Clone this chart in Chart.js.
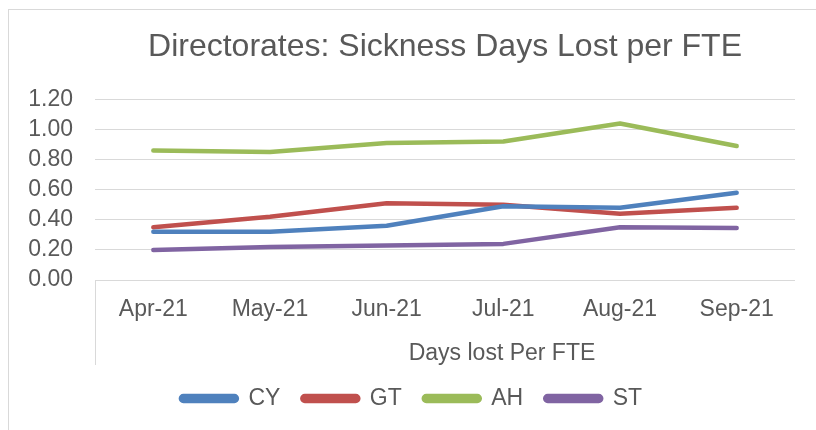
<!DOCTYPE html>
<html>
<head>
<meta charset="utf-8">
<script src="https://cdn.jsdelivr.net/npm/chart.js@4/dist/chart.umd.min.js"></script>
<style>
  html, body { margin: 0; padding: 0; background: #fff; overflow: hidden; }
  #wrap { position: relative; width: 816px; height: 430px; }
  #frame { position: absolute; left: 8px; top: 9px; right: -10px; bottom: -10px;
           border-left: 1px solid #d9d9d9; border-top: 1px solid #d9d9d9; }
  canvas { position: absolute; left: 0; top: 0; }
</style>
</head>
<body>
<div id="wrap">
  <div id="frame"></div>
  <canvas id="sicknessChart" width="816" height="430"></canvas>
</div>
<script>
const months = ['Apr-21', 'May-21', 'Jun-21', 'Jul-21', 'Aug-21', 'Sep-21'];
const cy = [0.32, 0.32, 0.36, 0.49, 0.48, 0.58];
const gt = [0.35, 0.42, 0.51, 0.50, 0.44, 0.48];
const ah = [0.86, 0.85, 0.91, 0.92, 1.04, 0.89];
const st = [0.20, 0.22, 0.23, 0.24, 0.35, 0.345];
const yTicks = [0.00, 0.20, 0.40, 0.60, 0.80, 1.00, 1.20];

const chartTitle = 'Directorates: Sickness Days Lost per FTE';
const xTitle = 'Days lost Per FTE';

const textColor = '#595959';
const gridColor = '#d9d9d9';
const fontFamily = '"Liberation Sans", Arial, sans-serif';

function line(label, data, color) {
    return {
        label: label,
        data: data,
        borderColor: color,
        backgroundColor: color,
        borderWidth: 4.5,
        borderCapStyle: 'round',
        borderJoinStyle: 'round',
        pointRadius: 0,
        pointHoverRadius: 0,
        tension: 0,
        fill: false
    };
}

// category box line + axis title, the way Excel draws them
const axisExtras = {
    id: 'axisExtras',
    afterDraw(chart) {
        const ctx = chart.ctx;
        const x = chart.scales.x;
        const area = chart.chartArea;
        ctx.save();
        ctx.strokeStyle = gridColor;
        ctx.lineWidth = 1;
        ctx.beginPath();
        ctx.moveTo(area.left + 0.5, area.bottom);
        ctx.lineTo(area.left + 0.5, x.bottom);
        ctx.stroke();
        ctx.fillStyle = textColor;
        ctx.font = '23px ' + fontFamily;
        ctx.textAlign = 'center';
        ctx.textBaseline = 'middle';
        ctx.fillText(xTitle, (x.left + x.right) / 2 + 57, x.bottom - 11);
        ctx.restore();
    }
};

document.addEventListener('DOMContentLoaded', function () {
    const canvas = document.getElementById('sicknessChart');
    if (typeof Chart === 'undefined' || !canvas) {
        return;
    }
    new Chart(canvas.getContext('2d'), {
        type: 'line',
        data: {
            labels: months,
            datasets: [
                line('CY', cy, '#4f81bd'),
                line('GT', gt, '#c0504d'),
                line('AH', ah, '#9bbb59'),
                line('ST', st, '#8064a2')
            ]
        },
        options: {
            responsive: false,
            animation: false,
            layout: { padding: { left: 28, right: 21, top: 10, bottom: 10 } },
            plugins: {
                title: {
                    display: true,
                    text: chartTitle,
                    fullSize: false,
                    color: textColor,
                    font: { family: fontFamily, size: 32, weight: 'normal' },
                    padding: { top: 18, bottom: 33 }
                },
                legend: {
                    position: 'bottom',
                    labels: {
                        color: textColor,
                        font: { family: fontFamily, size: 23 },
                        boxWidth: 56,
                        boxHeight: 5,
                        useBorderRadius: true,
                        borderRadius: 2.5,
                        padding: 22
                    }
                },
                tooltip: { enabled: false }
            },
            scales: {
                x: {
                    offset: true,
                    grid: { display: false, drawTicks: false },
                    border: { display: false },
                    ticks: {
                        color: textColor,
                        font: { family: fontFamily, size: 23 },
                        padding: 16,
                        maxRotation: 0,
                        autoSkip: false
                    },
                    afterFit(scale) { scale.height = 85; }
                },
                y: {
                    min: yTicks[0],
                    max: yTicks[yTicks.length - 1],
                    afterBuildTicks(scale) { scale.ticks = yTicks.map(v => ({ value: v })); },
                    grid: { color: gridColor, lineWidth: 1, drawTicks: false },
                    border: { display: false },
                    ticks: {
                        color: textColor,
                        font: { family: fontFamily, size: 23 },
                        padding: 22,
                        autoSkip: false,
                        callback: v => Number(v).toFixed(2)
                    },
                    afterFit(scale) { scale.width = 67; }
                }
            }
        },
        plugins: [axisExtras]
    });
});
</script>
</body>
</html>
